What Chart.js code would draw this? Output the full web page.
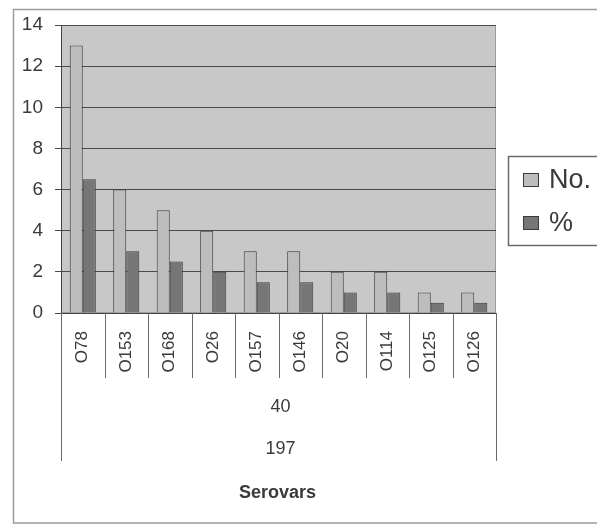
<!DOCTYPE html>
<html>
<head>
<meta charset="utf-8">
<script src="https://cdn.jsdelivr.net/npm/chart.js@4.4.1/dist/chart.umd.min.js"></script>
<style>
  html, body { margin: 0; padding: 0; background: #fff; overflow: hidden; }
  #wrap { position: relative; width: 597px; height: 524px; }
</style>
</head>
<body>
<div id="wrap"><canvas id="chart"></canvas></div>
<script>
// values
const serovars = ["O78", "O153", "O168", "O26", "O157", "O146", "O20", "O114", "O125", "O126"];
const countNo = [13, 6, 5, 4, 3, 3, 2, 2, 1, 1];
const percent = [6.5, 3, 2.5, 2, 1.5, 1.5, 1, 1, 0.5, 0.5];
const groupRows = ["40", "197"];
const yTicks = [0, 2, 4, 6, 8, 10, 12, 14];

const FONT = "'Liberation Sans', Arial, sans-serif";
const LIGHT = "#bdbdbd";
const DARK = "#767676";
const EDGE = "#3a3a3a";

/* =========================
   Plugins
========================= */

const plotBg = {
  id: "plotBg",
  beforeDraw(chart) {
    const { ctx, chartArea: a } = chart;
    ctx.save();
    // outer frame of the excel chart
    ctx.strokeStyle = "#9a9a9a";
    ctx.lineWidth = 1.5;
    ctx.strokeRect(13.5, 9.5, 620, 513.5);
    // plot area
    ctx.fillStyle = "#c8c8c8";
    ctx.fillRect(a.left, a.top, a.right - a.left, a.bottom - a.top);
    ctx.strokeStyle = "#9c9c9c";
    ctx.lineWidth = 1;
    ctx.strokeRect(a.left + 0.5, a.top + 0.5, a.right - a.left - 1, a.bottom - a.top - 1);
    ctx.restore();
  }
};

const underAxis = {
  id: "underAxis",
  afterDraw(chart) {
    const { ctx, chartArea: a } = chart;
    const x = chart.scales.x;
    const n = serovars.length;
    const step = x.getPixelForValue(1) - x.getPixelForValue(0);

    ctx.save();
    ctx.strokeStyle = "#6a6a6a";
    ctx.lineWidth = 1;
    for (let i = 0; i <= n; i++) {
      const px = Math.round(x.getPixelForValue(i) - step / 2) + 0.5;
      const end = (i === 0 || i === n) ? 461 : 378;
      ctx.beginPath();
      ctx.moveTo(px, a.bottom);
      ctx.lineTo(px, end);
      ctx.stroke();
    }

    const cx = (a.left + a.right) / 2 + 2;
    ctx.fillStyle = "#3a3a3a";
    ctx.textAlign = "center";
    ctx.textBaseline = "middle";
    ctx.font = "18px " + FONT;
    ctx.fillText(groupRows[0], cx, 407);
    ctx.fillText(groupRows[1], cx, 449);

    ctx.font = "bold 18px " + FONT;
    ctx.fillText("Serovars", cx - 3, 493);

    // legend box
    ctx.strokeStyle = "#6a6a6a";
    ctx.lineWidth = 1.5;
    ctx.strokeRect(508.5, 156.5, 120, 89);
    const items = chart.data.datasets;
    const rows = [180, 223];
    ctx.textAlign = "left";
    ctx.font = "27px " + FONT;
    items.forEach((ds, i) => {
      ctx.fillStyle = ds.backgroundColor;
      ctx.fillRect(523, rows[i] - 7, 16, 14);
      ctx.strokeStyle = EDGE;
      ctx.lineWidth = 1;
      ctx.strokeRect(523.5, rows[i] - 6.5, 15, 13);
      ctx.fillStyle = "#3a3a3a";
      ctx.fillText(ds.label, 549, rows[i] + 1);
    });
    ctx.restore();
  }
};

/* =========================
   Chart
========================= */

new Chart(document.getElementById("chart"), {
  type: "bar",
  data: {
    labels: serovars,
    datasets: [
      { label: "No.", data: countNo, backgroundColor: LIGHT, borderColor: EDGE, borderWidth: 1 },
      { label: "%", data: percent, backgroundColor: DARK, borderColor: EDGE, borderWidth: 1 }
    ]
  },
  options: {
    responsive: true,
    maintainAspectRatio: false,
    animation: false,
    layout: { padding: { left: 0, top: 25, right: 101, bottom: 0 } },
    datasets: { bar: { categoryPercentage: 0.6, barPercentage: 1.0 } },
    plugins: { legend: { display: false }, tooltip: { enabled: false } },
    scales: {
      x: {
        grid: { display: false },
        border: { display: true, color: "#444", width: 1 },
        ticks: {
          minRotation: 90, maxRotation: 90, padding: 10,
          color: "#3a3a3a", font: { family: FONT, size: 17 }
        },
        afterFit(s) { s.height = 211; }
      },
      y: {
        min: 0, max: 14,
        afterBuildTicks(s) { s.ticks = yTicks.map(v => ({ value: v })); },
        grid: { color: "#4a4a4a", lineWidth: 1, tickLength: 6 },
        border: { display: true, color: "#444", width: 1 },
        ticks: { padding: 12, color: "#3a3a3a", font: { family: FONT, size: 19 } },
        afterFit(s) { s.width = 61; }
      }
    }
  },
  plugins: [plotBg, underAxis]
});
</script>
</body>
</html>
